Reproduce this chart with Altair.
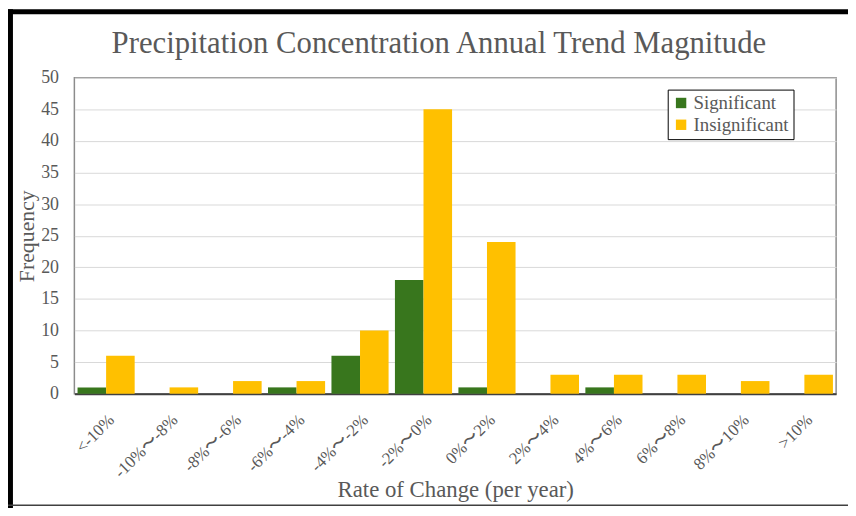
import altair as alt
import pandas as pd

categories = ["<-10%", "-10%〜-8%", "-8%〜-6%", "-6%〜-4%", "-4%〜-2%", "-2%〜0%",
              "0%〜2%", "2%〜4%", "4%〜6%", "6%〜8%", "8%〜10%", ">10%"]
significant = [1, 0, 0, 1, 6, 18, 1, 0, 1, 0, 0, 0]
insignificant = [6, 1, 2, 2, 10, 45, 24, 3, 3, 3, 2, 3]
series = ["Significant", "Insignificant"]
colors = ["#38761d", "#ffc000"]
title_text = "Precipitation Concentration Annual Trend Magnitude"

rows = []
for c, s, i in zip(categories, significant, insignificant):
    rows.append({"cat": c, "series": series[0], "value": s})
    rows.append({"cat": c, "series": series[1], "value": i})
df = pd.DataFrame(rows)

FONT = "Liberation Serif"
GRAY = "#595959"

bars = alt.Chart(df).mark_bar().encode(
    x=alt.X("cat:N", sort=categories,
            scale=alt.Scale(paddingInner=0.1, paddingOuter=0.05),
            axis=alt.Axis(title="Rate of Change (per year)", labelAngle=-45,
                          labelFontSize=17, labelColor=GRAY, labelFont=FONT,
                          titleFont=FONT, titleFontSize=23, titleColor=GRAY,
                          titleFontWeight="normal", titlePadding=-2,
                          ticks=False, labelPadding=18,
                          domainColor="#404040", domainWidth=2)),
    xOffset=alt.XOffset("series:N", sort=series, scale=alt.Scale(domain=series)),
    y=alt.Y("value:Q", scale=alt.Scale(domain=[0, 50]),
            axis=alt.Axis(title="Frequency", values=list(range(0, 51, 5)),
                          labelFontSize=18, labelColor=GRAY, labelFont=FONT,
                          titleFont=FONT, titleFontSize=22, titleColor=GRAY,
                          titleFontWeight="normal", titlePadding=2,
                          ticks=False, domain=False, labelPadding=16,
                          gridColor="#d9d9d9", gridWidth=1)),
    color=alt.Color("series:N", sort=series,
                    scale=alt.Scale(domain=series, range=colors),
                    legend=alt.Legend(title=None, orient="none", legendX=599, legendY=12,
                                      strokeColor="black", fillColor="white",
                                      padding=4, symbolType="square", symbolSize=110,
                                      symbolStrokeWidth=0,
                                      labelFont=FONT, labelFontSize=19, labelColor=GRAY,
                                      rowPadding=2, labelOffset=3)),
)

frame_df = pd.DataFrame({"t": [title_text]})
title = alt.Chart(frame_df).mark_text(
    font=FONT, fontSize=31, color=GRAY, align="center", baseline="alphabetic", clip=False
).encode(x=alt.value(368), y=alt.value(-25), text="t:N")
top = alt.Chart(frame_df).mark_rule(color="black", strokeWidth=5, clip=False).encode(
    x=alt.value(-67), x2=alt.value(790), y=alt.value(-66.5))
left = alt.Chart(frame_df).mark_rule(color="black", strokeWidth=5, clip=False).encode(
    x=alt.value(-64.5), y=alt.value(-69), y2=alt.value(445))
bottom = alt.Chart(frame_df).mark_rule(color="#404040", strokeWidth=1.5, clip=False).encode(
    x=alt.value(-67), x2=alt.value(790), y=alt.value(431.5))

chart = alt.layer(bars, title, top, left, bottom).properties(
    width=769, height=319,
    autosize=alt.AutoSizeParams(type="none"),
    padding={"left": 67, "top": 68, "right": 12, "bottom": 113},
).configure_view(stroke="#8c8c8c", strokeWidth=1.5)

chart.save("out.html", embed_options={"renderer": "svg", "actions": False})
